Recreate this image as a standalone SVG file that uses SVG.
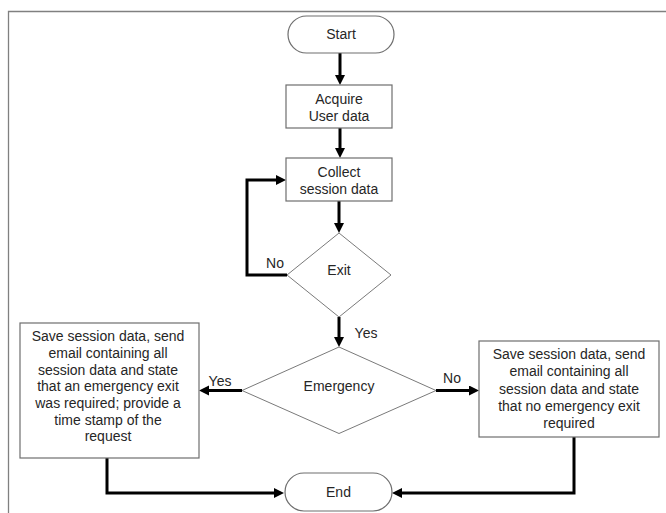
<svg xmlns="http://www.w3.org/2000/svg" width="666" height="513" viewBox="0 0 666 513">
<style>
.box{fill:#fff;stroke:#6e6e6e;stroke-width:1.2}
.dia{fill:#fff;stroke:#7a7a7a;stroke-width:1}
.t{font-family:"Liberation Sans","Open Sans",sans-serif;font-size:14px;fill:#262626;text-anchor:middle}
.c{fill:none;stroke:#000;stroke-width:3;marker-end:url(#ah)}
.frame{stroke:#808080;stroke-width:1.3;fill:none}
</style>
<defs>
<marker id="ah" markerUnits="userSpaceOnUse" markerWidth="11" markerHeight="11" refX="2" refY="5" orient="auto">
<path d="M0,0 L10,5 L0,10 z" fill="#000"/>
</marker>
</defs>
<rect width="666" height="513" fill="#fff"/>
<path class="frame" d="M8.5,513 V11.5 H666"/>
<g id="connectors">
<path class="c" d="M340,53 V77"/>
<path class="c" d="M340,128 V150"/>
<path class="c" d="M339,201 V225"/>
<path class="c" d="M287,275 H247 V180 H278"/>
<path class="c" d="M339,317 V339"/>
<path class="c" d="M242,390.5 H207"/>
<path class="c" d="M436,390.5 H471"/>
<path class="c" d="M107,458 V493 H276"/>
<path class="c" d="M574,437 V493 H400"/>
<text class="t" x="275" y="268">No</text>
<text class="t" x="366" y="338">Yes</text>
<text class="t" x="220" y="386">Yes</text>
<text class="t" x="452" y="383">No</text>
</g>
<g id="start">
<rect class="box" x="288" y="16" width="106" height="37" rx="18.5"/>
<text class="t" x="341" y="39">Start</text>
</g>
<g id="acquire">
<rect class="box" x="286" y="85" width="106" height="43"/>
<text class="t" x="339" y="104">Acquire</text>
<text class="t" x="339" y="121">User data</text>
</g>
<g id="collect">
<rect class="box" x="286" y="158" width="106" height="43"/>
<text class="t" x="339" y="176.5">Collect</text>
<text class="t" x="339" y="193.5">session data</text>
</g>
<g id="exit">
<polygon class="dia" points="339,233 391,275 339,317 287,275"/>
<text class="t" x="339" y="275">Exit</text>
</g>
<g id="emergency">
<polygon class="dia" points="339,347 436,390.5 339,433.5 242,390.5"/>
<text class="t" x="339" y="391">Emergency</text>
</g>
<g id="save-emergency">
<rect class="box" x="20" y="323" width="179" height="135"/>
<text class="t" x="108" y="341">Save session data, send</text>
<text class="t" x="108" y="358">email containing all</text>
<text class="t" x="108" y="374.5">session data and state</text>
<text class="t" x="108" y="391">that an emergency exit</text>
<text class="t" x="108" y="408">was required; provide a</text>
<text class="t" x="108" y="424.5">time stamp of the</text>
<text class="t" x="108" y="441">request</text>
</g>
<g id="save-normal">
<rect class="box" x="479" y="341" width="180" height="96"/>
<text class="t" x="569" y="359">Save session data, send</text>
<text class="t" x="569" y="376">email containing all</text>
<text class="t" x="569" y="393.5">session data and state</text>
<text class="t" x="569" y="411">that no emergency exit</text>
<text class="t" x="569" y="428">required</text>
</g>
<g id="end">
<rect class="box" x="285" y="473" width="107" height="38" rx="19"/>
<text class="t" x="338.5" y="497">End</text>
</g>
</svg>
